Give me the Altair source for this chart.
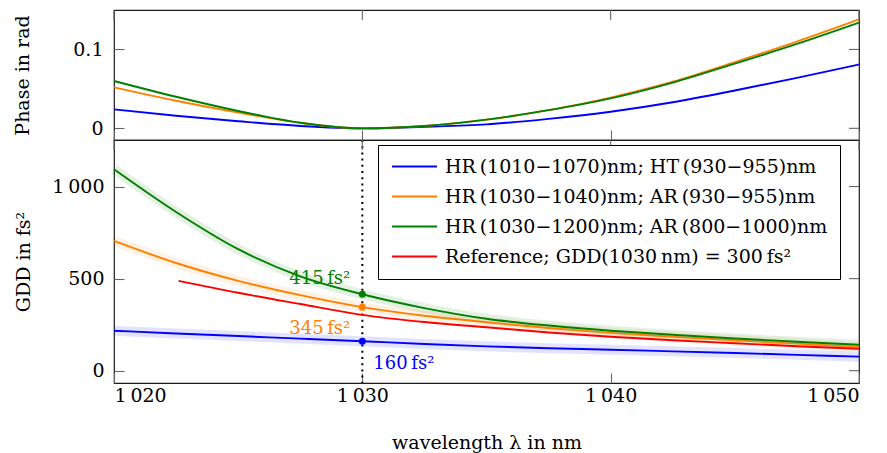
import altair as alt
import pandas as pd

# ---------------- data ----------------
wl = [1020, 1022.5, 1025, 1027.5, 1030, 1032.5, 1035, 1037.5, 1040, 1042.5, 1045, 1047.5, 1050]

phase_blue = [0.024, 0.016, 0.009, 0.003, 0.0, 0.002, 0.005, 0.012, 0.021, 0.033, 0.048, 0.064, 0.081]
phase_orange = [0.052, 0.035, 0.020, 0.007, 0.0, 0.003, 0.011, 0.023, 0.039, 0.059, 0.084, 0.110, 0.138]
phase_green = [0.060, 0.040, 0.022, 0.007, 0.0, 0.003, 0.011, 0.023, 0.038, 0.058, 0.082, 0.107, 0.134]

gdd_blue = [217, 202, 188, 174, 160, 145, 132, 122, 114, 105, 96, 86, 76]
gdd_orange = [705, 585, 488, 410, 345, 298, 263, 232, 205, 184, 165, 147, 129]
gdd_green = [1094, 862, 660, 512, 415, 340, 282, 245, 217, 195, 175, 157, 141]

ref_wl = [1022.6, 1025, 1027.5, 1030, 1032.5, 1035, 1037.5, 1040, 1042.5, 1045, 1047.5, 1050]
gdd_ref = [488, 423, 362, 303, 264, 236, 207, 184, 165, 149, 133, 119]

names = [
    "HR\u2009(1010\u22121070)nm; HT\u2009(930\u2212955)nm",
    "HR\u2009(1030\u22121040)nm; AR\u2009(930\u2212955)nm",
    "HR\u2009(1030\u22121200)nm; AR\u2009(800\u22121000)nm",
    "Reference; GDD(1030\u2009nm) = 300\u2009fs\u00b2",
]
colors = ["#0000ff", "#ff8000", "#008000", "#ff0000"]

mark_wl = [1030, 1030, 1030]
mark_gdd = [160, 345, 415]
mark_labels = ["160\u2009fs\u00b2", "345\u2009fs\u00b2", "415\u2009fs\u00b2"]

x_ticks = [1020, 1030, 1040, 1050]
phase_ticks = [0, 0.1]
gdd_ticks = [0, 500, 1000]

# ---------------- tables ----------------
phase_df = pd.concat([
    pd.DataFrame({"wl": wl, "v": phase_blue, "series": names[0]}),
    pd.DataFrame({"wl": wl, "v": phase_orange, "series": names[1]}),
    pd.DataFrame({"wl": wl, "v": phase_green, "series": names[2]}),
])
gdd_df = pd.concat([
    pd.DataFrame({"wl": wl, "v": gdd_blue, "series": names[0]}),
    pd.DataFrame({"wl": wl, "v": gdd_orange, "series": names[1]}),
    pd.DataFrame({"wl": wl, "v": gdd_green, "series": names[2]}),
    pd.DataFrame({"wl": ref_wl, "v": gdd_ref, "series": names[3]}),
])
band_df = gdd_df[gdd_df["series"] != names[3]]
pts_df = pd.DataFrame({"wl": mark_wl, "v": mark_gdd, "series": names[:3], "label": mark_labels})
xt_df = pd.DataFrame({"wl": [float(v) for v in x_ticks]})
pt_df = pd.DataFrame({"v": [float(v) for v in phase_ticks]})
gt_df = pd.DataFrame({"v": [float(v) for v in gdd_ticks]})
vline_df = pd.DataFrame({"wl": [1030]})

W = 745
H_TOP = 130
H_BOT = 243
FONT = "DejaVu Serif"
TICK_COLOR = "#666666"
TL = 10
LW = 1.9
LBL = "replace(format(datum.value, ','), ',', '\u2009')"

xs = alt.Scale(domain=[1020, 1050], nice=False, zero=False)
ys_top = alt.Scale(domain=[-0.0148, 0.150], nice=False, zero=False)
ys_bot = alt.Scale(domain=[-67, 1253], nice=False, zero=False)
cs = alt.Scale(domain=names, range=colors)

TICKS = dict(ticks=True, tickSize=TL, tickColor=TICK_COLOR, tickWidth=1.1, offset=-TL,
             domain=False, grid=False)

# axes (identical objects used in every layer of a panel so they merge);
# the negative offset turns the outward ticks into inward ticks
ax_y_top = alt.Axis(
    values=phase_ticks, format="~g", **TICKS,
    labelPadding=11, labelFontSize=19, labelFont=FONT, labelColor="black",
    title="Phase in rad", titleFont=FONT, titleFontSize=19, titleFontWeight="normal",
    titleColor="black", titleX=-92 - TL, titleY=H_TOP / 2, titleBaseline="middle", titleAlign="center",
    titleAngle=270)
ax_x_top = alt.Axis(values=x_ticks, labels=False, title=None, **TICKS)
ax_x_bot = alt.Axis(
    values=x_ticks, labelExpr=LBL, **TICKS,
    labelPadding=3, labelFontSize=19, labelFont=FONT, labelColor="black",
    title="wavelength \u03bb in nm", titleFont=FONT, titleFontSize=19, titleFontWeight="normal",
    titleColor="black", titlePadding=28)
ax_y_bot = alt.Axis(
    values=gdd_ticks, labelExpr=LBL, **TICKS,
    labelPadding=10, labelFontSize=19, labelFont=FONT, labelColor="black",
    title="GDD in fs\u00b2", titleFont=FONT, titleFontSize=19, titleFontWeight="normal",
    titleColor="black", titleX=-91 - TL, titleY=H_BOT / 2, titleBaseline="middle", titleAlign="center",
    titleAngle=270)


def X(ax):
    return alt.X("wl:Q", scale=xs, axis=ax, title=None)


def edge_ticks(yscale, yax, xax, ydf):
    # ticks on the top and right edges of a panel
    Y = lambda: alt.Y("v:Q", scale=yscale, axis=yax)
    vt = alt.Chart(xt_df).mark_rule(color=TICK_COLOR, strokeWidth=1.1)
    ht = alt.Chart(ydf).mark_rule(color=TICK_COLOR, strokeWidth=1.1)
    return [
        vt.encode(x=X(xax), y=alt.value(0), y2=alt.value(TL)),
        ht.encode(y=Y(), x=alt.value(W), x2=alt.value(W - TL)),
    ]


# ---------------- top panel ----------------
top_lines = alt.Chart(phase_df).mark_line(strokeWidth=LW, interpolate="monotone").encode(
    x=X(ax_x_top),
    y=alt.Y("v:Q", scale=ys_top, axis=ax_y_top),
    color=alt.Color("series:N", scale=cs, legend=None),
)
top = alt.layer(top_lines, *edge_ticks(ys_top, ax_y_top, ax_x_top, pt_df)).properties(
    width=W, height=H_TOP)

# ---------------- bottom panel ----------------
YB = lambda: alt.Y("v:Q", scale=ys_bot, axis=ax_y_bot)

bands = alt.Chart(band_df).mark_line(strokeWidth=10, opacity=0.11, interpolate="monotone").encode(
    x=X(ax_x_bot), y=YB(),
    stroke=alt.Stroke("series:N", scale=cs, legend=None),
)
vline = alt.Chart(vline_df).mark_rule(color="black", strokeWidth=2, strokeDash=[2, 4.2]).encode(
    x=X(ax_x_bot), y=alt.value(0), y2=alt.value(H_BOT)
)
bot_lines = alt.Chart(gdd_df).mark_line(strokeWidth=LW, interpolate="monotone").encode(
    x=X(ax_x_bot), y=YB(),
    color=alt.Color("series:N", scale=cs, legend=alt.Legend(
        orient="none", legendX=264, legendY=5, title=None,
        symbolType="M-1,0H5", symbolSize=225, symbolStrokeWidth=LW, symbolFillColor="transparent",
        symbolOpacity=1, labelOffset=36, labelFont=FONT, labelFontSize=19, labelColor="black",
        labelLimit=600, rowPadding=10, padding=12, strokeColor="black", fillColor="white",
    )),
)
pts = alt.Chart(pts_df).mark_circle(size=50, opacity=1).encode(
    x=X(ax_x_bot), y=YB(),
    fill=alt.Fill("series:N", scale=cs, legend=None),
)


def label_layer(i, dx, dy, align):
    return alt.Chart(pts_df.iloc[[i]]).mark_text(
        dx=dx, dy=dy, align=align, baseline="alphabetic", font=FONT, fontSize=18, color=colors[i]
    ).encode(x=X(ax_x_bot), y=YB(), text="label:N")


labels = [
    label_layer(0, 11, 28, "left"),
    label_layer(1, -12, 27, "right"),
    label_layer(2, -12, -10, "right"),
]

bottom = alt.layer(
    bands, vline, bot_lines, *edge_ticks(ys_bot, ax_y_bot, ax_x_bot, gt_df), pts, *labels
).properties(width=W, height=H_BOT)

chart = alt.vconcat(top, bottom, spacing=0, bounds="flush").resolve_scale(color="independent").properties(
    padding={"left": 12, "top": 8, "right": 3, "bottom": 0}, background="white"
).configure_view(stroke="#1a1a1a", strokeWidth=1.2)

chart.save("out.html", embed_options={"renderer": "svg", "actions": False})
